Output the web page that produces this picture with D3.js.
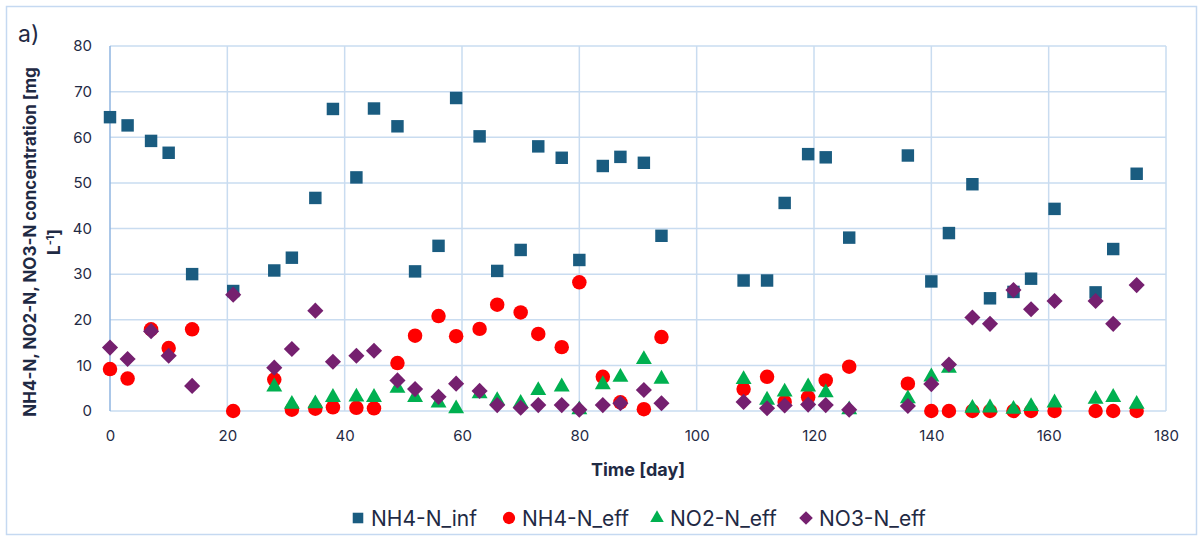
<!DOCTYPE html>
<html>
<head>
<meta charset="utf-8">
<script src="https://cdn.jsdelivr.net/npm/d3@7"></script>
<style>
  body { margin: 0; background: #fff; }
  svg { font-family: Inter, "Noto Sans", sans-serif; }
</style>
</head>
<body>
<div id="chart"></div>
<script>
var width = 1203,
  height = 540;

var days = [0, 3, 7, 10, 14, 21, 28, 31, 35, 38, 42, 45, 49, 52, 56, 59, 63, 66, 70, 73, 77, 80, 84, 87, 91, 94,
  108, 112, 115, 119, 122, 126, 136, 140, 143, 147, 150, 154, 157, 161, 168, 171, 175];

var nh4Inf = [64.4, 62.6, 59.2, 56.6, 30.0, 26.3, 30.8, 33.6, 46.7, 66.2, 51.2, 66.3, 62.4, 30.6, 36.2, 68.6, 60.2, 30.7, 35.3, 58.0, 55.5, 33.1, 53.7, 55.7, 54.4, 38.4,
  28.6, 28.6, 45.6, 56.3, 55.6, 38.0, 56.0, 28.4, 39.0, 49.7, 24.7, 26.1, 29.0, 44.3, 26.0, 35.5, 52.0];

var nh4Eff = [9.2, 7.1, 17.9, 13.8, 17.9, 0.0, 6.9, 0.3, 0.5, 0.8, 0.7, 0.6, 10.5, 16.5, 20.8, 16.4, 18.0, 23.3, 21.6, 16.9, 14.0, 28.2, 7.5, 1.9, 0.4, 16.2,
  4.8, 7.5, 2.0, 3.0, 6.7, 9.7, 6.0, 0.0, 0.0, 0.0, 0.0, 0.0, 0.0, 0.0, 0.0, 0.0, 0.0];

// no NO2 measured before day 28
var no2Eff = [null, null, null, null, null, null, 5.3, 1.5, 1.6, 3.0, 3.1, 3.0, 5.0, 3.0, 1.8, 0.5, 3.8, 2.3, 1.7, 4.5, 5.3, 0.3, 5.8, 7.4, 11.3, 7.0,
  6.9, 2.4, 4.2, 5.3, 4.0, 0.3, 2.7, 7.5, 9.4, 0.6, 0.7, 0.4, 1.0, 1.8, 2.6, 3.0, 1.5];

var no3Eff = [13.9, 11.4, 17.5, 12.1, 5.5, 25.5, 9.5, 13.6, 22.0, 10.8, 12.1, 13.2, 6.7, 4.8, 3.1, 6.0, 4.4, 1.3, 0.7, 1.3, 1.3, 0.3, 1.3, 1.7, 4.6, 1.7,
  2.0, 0.6, 1.2, 1.4, 1.3, 0.3, 1.1, 5.9, 10.2, 20.5, 19.1, 26.5, 22.3, 24.1, 24.1, 19.1, 27.6];

var xTicks = [0, 20, 40, 60, 80, 100, 120, 140, 160, 180];
var yTicks = [0, 10, 20, 30, 40, 50, 60, 70, 80];

// squat diamond like the spreadsheet marker
var diamond = {
  draw: function (ctx, size) {
    var r = Math.sqrt(size / 2);
    ctx.moveTo(0, -r);
    ctx.lineTo(r, 0);
    ctx.lineTo(0, r);
    ctx.lineTo(-r, 0);
    ctx.closePath();
  }
};

var series = [
  { name: 'NH4-N_inf', values: nh4Inf, shape: d3.symbolSquare, color: '#1a5c80', size: 155 },
  { name: 'NH4-N_eff', values: nh4Eff, shape: d3.symbolCircle, color: '#ff0000', size: 165 },
  { name: 'NO2-N_eff', values: no2Eff, shape: d3.symbolTriangle, color: '#00b050', size: 110 },
  { name: 'NO3-N_eff', values: no3Eff, shape: diamond, color: '#75206f', size: 130 }
];

var margin = { top: 46, right: 37, bottom: 129, left: 110 };
var textColor = '#1f2a44';
var gridColor = '#c9dcf0';

var x = d3.scaleLinear().domain([0, 180]).range([margin.left, width - margin.right]);
var y = d3.scaleLinear().domain([0, 80]).range([height - margin.bottom, margin.top]);

var svg = d3.select('#chart')
  .append('svg')
  .attr('width', width)
  .attr('height', height);

// outer frame
svg.append('rect')
  .attr('x', 6.5).attr('y', 6.5)
  .attr('width', width - 13).attr('height', height - 12)
  .attr('fill', 'none')
  .attr('stroke', '#c5d9f1')
  .attr('stroke-width', 1.5);

svg.append('text')
  .attr('x', 18).attr('y', 42)
  .attr('font-size', 23)
  .attr('fill', textColor)
  .text('a)');

// grid
svg.append('g')
  .selectAll('line')
  .data(yTicks)
  .join('line')
  .attr('x1', x(0)).attr('x2', x(180))
  .attr('y1', d => y(d)).attr('y2', d => y(d))
  .attr('stroke', gridColor)
  .attr('stroke-width', 1.5);

svg.append('g')
  .selectAll('line')
  .data(xTicks.slice(1))
  .join('line')
  .attr('x1', d => x(d)).attr('x2', d => x(d))
  .attr('y1', y(0)).attr('y2', y(80))
  .attr('stroke', gridColor)
  .attr('stroke-width', 1.5);

// y axis line
svg.append('line')
  .attr('x1', x(0)).attr('x2', x(0))
  .attr('y1', y(0)).attr('y2', y(80))
  .attr('stroke', '#8fb4e0')
  .attr('stroke-width', 1.5);

// axes
var yAxis = svg.append('g')
  .attr('transform', 'translate(' + margin.left + ',0)')
  .call(d3.axisLeft(y).tickValues(yTicks).tickSize(0).tickPadding(18));
yAxis.select('.domain').remove();
yAxis.selectAll('text')
  .attr('font-size', 15)
  .attr('font-family', 'Inter, "Noto Sans", sans-serif')
  .attr('fill', textColor);

var xAxis = svg.append('g')
  .attr('transform', 'translate(0,' + y(0) + ')')
  .call(d3.axisBottom(x).tickValues(xTicks).tickSize(0).tickPadding(19));
xAxis.select('.domain').remove();
xAxis.selectAll('text')
  .attr('font-size', 15)
  .attr('font-family', 'Inter, "Noto Sans", sans-serif')
  .attr('fill', textColor);

// axis titles
svg.append('text')
  .attr('x', (x(0) + x(180)) / 2)
  .attr('y', 476)
  .attr('text-anchor', 'middle')
  .attr('font-size', 18)
  .attr('font-weight', 'bold')
  .attr('fill', textColor)
  .text('Time [day]');

var yTitle = svg.append('g')
  .attr('transform', 'translate(36,' + 242 + ') rotate(-90)');
yTitle.append('text')
  .attr('text-anchor', 'middle')
  .attr('font-size', 17)
  .attr('font-weight', 'bold')
  .attr('fill', textColor)
  .text('NH4-N, NO2-N, NO3-N concentration [mg');
var l2 = yTitle.append('text')
  .attr('y', 24)
  .attr('text-anchor', 'middle')
  .attr('font-size', 17)
  .attr('font-weight', 'bold')
  .attr('fill', textColor);
l2.append('tspan').text('L');
l2.append('tspan').attr('dy', -6).attr('font-size', 11).text('-1');
l2.append('tspan').attr('dy', 6).text(']');

// points
series.forEach(function (s) {
  var pts = days.map((d, i) => ({ day: d, v: s.values[i] })).filter(p => p.v !== null);
  svg.append('g')
    .selectAll('path')
    .data(pts)
    .join('path')
    .attr('d', d3.symbol().type(s.shape).size(s.size))
    .attr('transform', p => 'translate(' + x(p.day) + ',' + y(p.v) + ')')
    .attr('fill', s.color);
});

// legend
var legendX = [358, 509, 657, 806];
var legend = svg.append('g');
series.forEach(function (s, i) {
  var g = legend.append('g').attr('transform', 'translate(' + legendX[i] + ',518)');
  g.append('path')
    .attr('d', d3.symbol().type(s.shape).size(s.size * 0.72))
    .attr('fill', s.color);
  g.append('text')
    .attr('x', 13)
    .attr('y', 8)
    .attr('font-size', 21)
    .attr('fill', textColor)
    .text(s.name);
});
</script>
</body>
</html>
